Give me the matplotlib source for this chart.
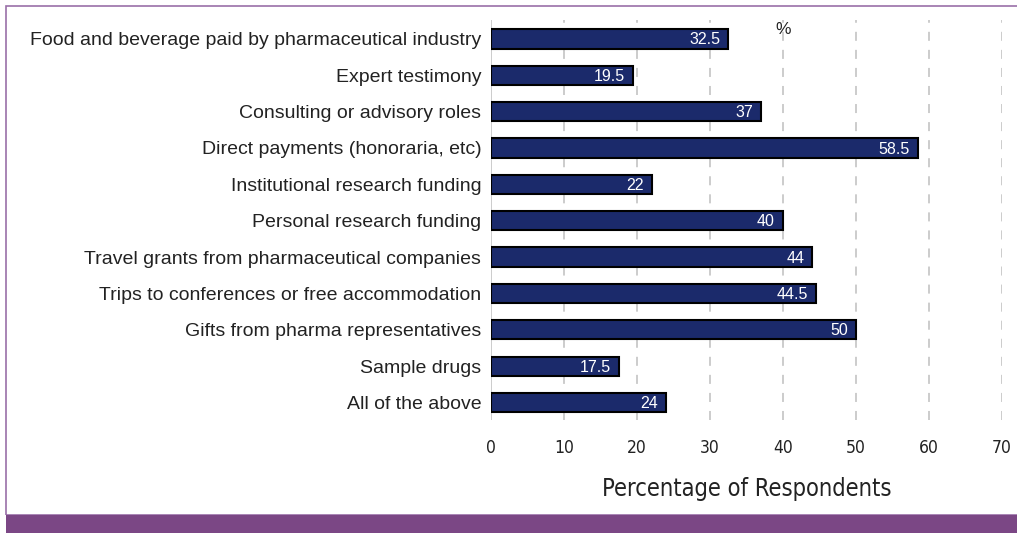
import matplotlib
matplotlib.use("Agg")
import matplotlib.pyplot as plt
from matplotlib.patches import Rectangle
from matplotlib import font_manager

categories = [
    "Food and beverage paid by pharmaceutical industry",
    "Expert testimony",
    "Consulting or advisory roles",
    "Direct payments (honoraria, etc)",
    "Institutional research funding",
    "Personal research funding",
    "Travel grants from pharmaceutical companies",
    "Trips to conferences or free accommodation",
    "Gifts from pharma representatives",
    "Sample drugs",
    "All of the above",
]
values = [32.5, 19.5, 37, 58.5, 22, 40, 44, 44.5, 50, 17.5, 24]
value_labels = ["32.5", "19.5", "37", "58.5", "22", "40", "44", "44.5", "50", "17.5", "24"]
xticks = [0, 10, 20, 30, 40, 50, 60, 70]

names = {f.name for f in font_manager.fontManager.ttflist}
narrow = "Liberation Sans Narrow" if "Liberation Sans Narrow" in names else "DejaVu Sans"
narrow_stretch = "normal" if narrow == "Liberation Sans Narrow" else "condensed"

W, H, DPI = 1017, 533, 100
fig = plt.figure(figsize=(W / DPI, H / DPI), dpi=DPI)
purple = "#7b4785"

# frame
fig.add_artist(Rectangle((6 / W, 18 / H), 1.2, 1 - 6 / H - 18 / H, transform=fig.transFigure,
                         fill=False, edgecolor="#9a70a8", linewidth=1.2))
fig.add_artist(Rectangle((6 / W, 0), 1, 18 / H, transform=fig.transFigure,
                         facecolor=purple, edgecolor="none"))

ax = fig.add_axes([491 / W, 1 - 420 / H, (1002 - 491) / W, 400 / H])
y = list(range(len(categories)))
ax.barh(y, values, height=0.53, color="#1b2a6b", edgecolor="black", linewidth=1.5, zorder=3)
for yi, v, lab in zip(y, values, value_labels):
    ax.text(v - 1.1, yi + 0.03, lab, color="white", ha="right", va="center",
            fontsize=11.5, family="Liberation Sans", zorder=4)

ax.set_xlim(0, 70)
ax.set_ylim(10.48, -0.52)
ax.set_yticks(y)
ax.set_yticklabels(categories, fontsize=14, family="Liberation Sans", color="#222222")
ax.set_xticks(xticks)
ax.set_xticklabels([str(t) for t in xticks], fontsize=12.5, family=narrow,
                   stretch=narrow_stretch, color="#222222")
ax.tick_params(axis="both", length=0)
ax.tick_params(axis="y", pad=7)
ax.tick_params(axis="x", pad=14)
for s in ax.spines.values():
    s.set_visible(False)
for t in xticks:
    ax.axvline(t, color="#c8c8c8", linestyle=(0, (5, 5)) if t else "-", linewidth=1.3, zorder=1)
ax.text(40, -0.52 + 0.25, "%", ha="center", va="center", fontsize=12.5,
        family="Liberation Sans", color="#222222")
ax.set_xlabel("Percentage of Respondents", fontsize=17, family=narrow, stretch=narrow_stretch,
              color="#222222", labelpad=14)

fig.savefig("out.png", dpi=DPI)
